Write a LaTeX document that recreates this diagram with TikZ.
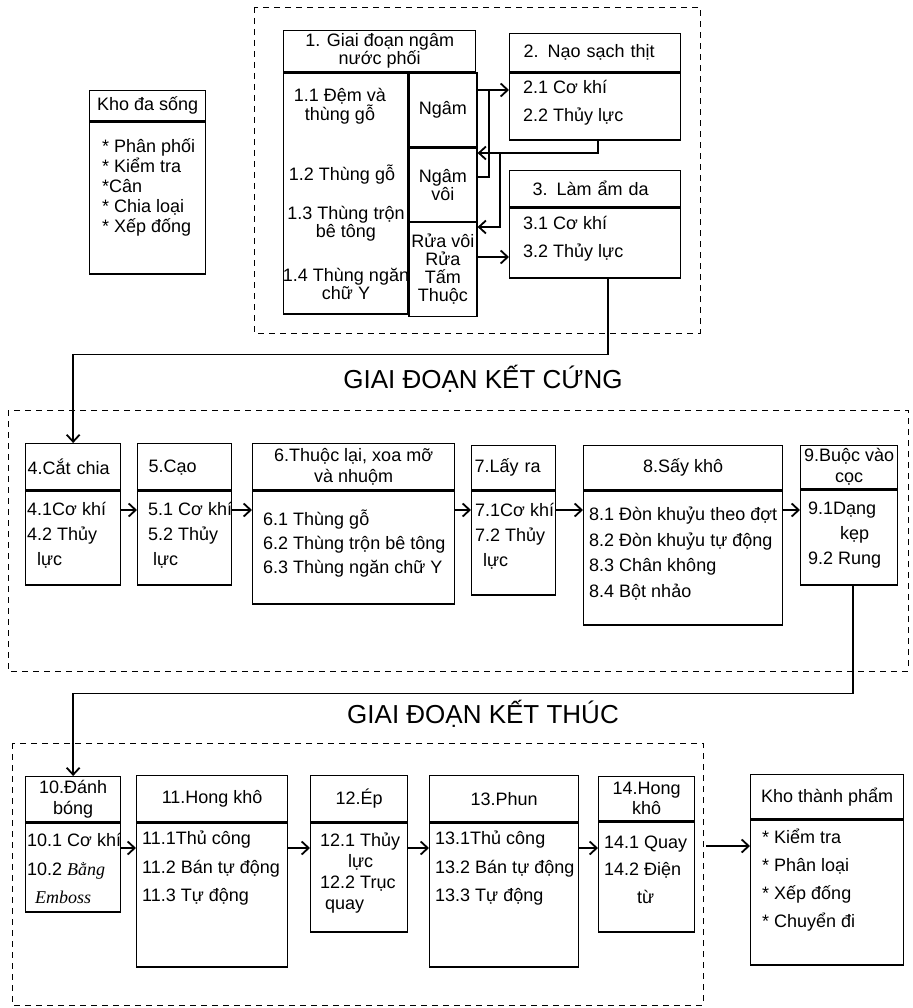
\documentclass[tikz,border=0pt]{standalone}
\usepackage{fontspec}
\setmainfont{Liberation Sans}
\newfontfamily\handfont{Liberation Serif}
\usetikzlibrary{positioning, arrows.meta, calc}

\begin{document}
\begin{tikzpicture}[
    x=1pt, y=-1pt,
    box/.style={rectangle, draw=black, line width=1.3pt, inner sep=0pt, anchor=north west},
    head/.style={box, font=\fontsize{18}{21}\selectfont, align=center},
    cell/.style={box, font=\fontsize{18}{18}\selectfont, align=center, minimum width=68},
    txt/.style={font=\fontsize{18}{#1}\selectfont, align=left, inner sep=0pt, anchor=west},
    txt/.default=26,
    ctxt/.style={font=\fontsize{18}{18}\selectfont, align=center, inner sep=0pt},
    stage/.style={draw=black, line width=0.9pt, dash pattern=on 6pt off 5pt},
    title/.style={font=\fontsize{26}{30}\selectfont, inner sep=0pt, anchor=base},
    arrow/.style={-{Straight Barb[length=7pt,width=13pt,line width=1.8pt]}, line width=1.4pt},
    link/.style={line width=1.4pt},
]
\useasboundingbox (0,0) rectangle (912,1008);

% === STAGE 1: SOAKING ===
\draw[stage] (254,7) rectangle (700,333);

\node[head, minimum width=116, minimum height=30] (hds) at (89,90) {Kho đa sống};
\node[box, minimum width=116, minimum height=152] (bds) at (hds.south west) {};
\node[txt=20] (tds) at (102,187) {* Phân phối\\* Kiểm tra\\*Cân\\* Chia loại\\* Xếp đống};

\node[head, minimum width=192, minimum height=41, font=\fontsize{18}{18}\selectfont] (h1) at (283,30) {1. Giai đoạn ngâm\\nước phối};
\node[box, minimum width=124, minimum height=241] (b1) at (h1.south west) {};
\node[cell, minimum height=74] (ngam) at (b1.north east) {Ngâm};
\node[cell, minimum height=73] (ngamvoi) at (ngam.south west) {Ngâm\\vôi};
\node[cell, minimum height=94] (ruavoi) at (ngamvoi.south west) {Rửa vôi\\Rửa\\Tấm\\Thuộc};
\node[ctxt] (t11) at (340,106) {1.1 Đệm và\\thùng gỗ};
\node[ctxt] (t12) at (342,175) {1.2 Thùng gỗ};
\node[ctxt] (t13) at (346,224) {1.3 Thùng trộn\\bê tông};
\node[ctxt] (t14) at (346,284) {1.4 Thùng ngăn\\chữ Y};

\node[head, minimum width=171, minimum height=38, text width=143, align=left] (h2) at (509,33) {2. Nạo sạch thịt};
\node[box, minimum width=171, minimum height=67] (b2) at (h2.south west) {};
\node[txt=28] (t2) at (523,103) {2.1 Cơ khí\\2.2 Thủy lực};

\node[head, minimum width=171, minimum height=36, text width=125, align=left] (h3) at (509,170) {3. Làm ẩm da};
\node[box, minimum width=171, minimum height=70] (b3) at (h3.south west) {};
\node[txt=28] (t3) at (523,239) {3.1 Cơ khí\\3.2 Thủy lực};

% links inside stage 1
\coordinate (j1) at (489,90);
\coordinate (j2) at (500,153);
\draw[arrow] (ngam.east |- j1) -- (b2.west |- j1);
\draw[link] (ngamvoi.east |- 0,177) -| (j1);
\draw[arrow] (598,0 |- b2.south) |- (ngamvoi.east |- j2);
\draw[arrow] (j2) |- (ruavoi.east |- 0,227);
\draw[arrow] (ruavoi.east |- 0,257) -- (b3.west |- 0,257);

% === GIAI DOAN KET CUNG ===
\node[title] (title1) at (483,388) {GIAI ĐOẠN KẾT CỨNG};
\draw[stage] (8,410) rectangle (908,671);

\node[head, minimum width=95, minimum height=46, text width=91, align=left] (h4) at (25,443) {\rule{0pt}{14pt}4.Cắt chia};
\node[box, minimum width=95, minimum height=94] (b4) at (h4.south west) {};
\node[txt=25] (t4) at (27,535) {4.1Cơ khí\\4.2 Thủy\\\hspace*{10pt}lực};

\node[head, minimum width=94, minimum height=46, text width=72, align=left] (h5) at (137,443) {\rule{0pt}{14pt}5.Cạo};
\node[box, minimum width=94, minimum height=94] (b5) at (h5.south west) {};
\node[txt=25] (t5) at (148,535) {5.1 Cơ khí\\5.2 Thủy\\\hspace*{5pt}lực};

\node[head, minimum width=202, minimum height=46] (h6) at (252,443) {6.Thuộc lại, xoa mỡ\\và nhuộm};
\node[box, minimum width=202, minimum height=113] (b6) at (h6.south west) {};
\node[txt=24] (t6) at (263,544) {6.1 Thùng gỗ\\6.2 Thùng trộn bê tông\\6.3 Thùng ngăn chữ Y};

\node[head, minimum width=84, minimum height=44, text width=78, align=left] (h7) at (471,445) {\rule{0pt}{14pt}7.Lấy ra};
\node[box, minimum width=84, minimum height=104] (b7) at (h7.south west) {};
\node[txt=25] (t7) at (475,536) {7.1Cơ khí\\7.2 Thủy\\\hspace*{8pt}lực};

\node[head, minimum width=199, minimum height=44] (h8) at (583,445) {8.Sấy khô};
\node[box, minimum width=199, minimum height=134] (b8) at (h8.south west) {};
\node[txt=25.7] (t8) at (589,553.5) {8.1 Đòn khuỷu theo đợt\\8.2 Đòn khuỷu tự động\\8.3 Chân không\\8.4 Bột nhảo};

\node[head, minimum width=97, minimum height=43] (h9) at (800,445) {9.Buộc vào\\cọc};
\node[box, minimum width=97, minimum height=95] (b9) at (h9.south west) {};
\node[txt=25] (t9) at (808,535) {9.1Dạng\\\hspace*{32pt}kẹp\\9.2 Rung};

\draw[arrow] (608,0 |- b3.south) -- ++(0,76) -| (h4.north);
\foreach \a/\b in {b4/b5, b5/b6, b6/b7, b7/b8, b8/b9}
  \draw[arrow] (\a.east |- 0,510) -- (\b.west |- 0,510);

% === GIAI DOAN KET THUC ===
\node[title] (title2) at (483,723) {GIAI ĐOẠN KẾT THÚC};
\draw[stage] (12,743) rectangle (703,1005);

\node[head, minimum width=95, minimum height=45] (h10) at (25,776) {10.Đánh\\bóng};
\node[box, minimum width=95, minimum height=89] (b10) at (h10.south west) {};
\node[txt=28.5] (t10) at (27,868.5) {10.1 Cơ khí\\10.2 {\handfont\itshape Bằng}\\\hspace*{8pt}{\handfont\itshape Emboss}};

\node[head, minimum width=151, minimum height=46] (h11) at (136,775) {11.Hong khô};
\node[box, minimum width=151, minimum height=144] (b11) at (h11.south west) {};
\node[txt=28.5] (t11b) at (142,868.5) {11.1Thủ công\\11.2 Bán tự động\\11.3 Tự động};

\node[head, minimum width=97, minimum height=46] (h12) at (310,775) {12.Ép};
\node[box, minimum width=97, minimum height=109] (b12) at (h12.south west) {};
\node[txt=21] (t12b) at (320,873.5) {12.1 Thủy\\\hspace*{28pt}lực\\12.2 Trục\\\hspace*{5pt}quay};

\node[head, minimum width=149, minimum height=46] (h13) at (429,775) {13.Phun};
\node[box, minimum width=149, minimum height=144] (b13) at (h13.south west) {};
\node[txt=28.5] (t13b) at (435,868.5) {13.1Thủ công\\13.2 Bán tự động\\13.3 Tự động};

\node[head, minimum width=96, minimum height=44, font=\fontsize{18}{20}\selectfont] (h14) at (598,776) {14.Hong\\khô};
\node[box, minimum width=96, minimum height=110] (b14) at (h14.south west) {};
\node[txt=27.5] (t14b) at (604,869.5) {14.1 Quay\\14.2 Điện\\\hspace*{33pt}từ};

\node[head, minimum width=153, minimum height=44] (hkt) at (750,774) {Kho thành phẩm};
\node[box, minimum width=153, minimum height=145] (bkt) at (hkt.south west) {};
\node[txt=28] (tkt) at (762,880) {* Kiểm tra\\* Phân loại\\* Xếp đống\\* Chuyển đi};

\draw[arrow] (853,0 |- b9.south) -- ++(0,108) -| (h10.north);
\foreach \a/\b in {b10/b11, b11/b12, b12/b13, b13/b14}
  \draw[arrow] (\a.east |- 0,848) -- (\b.west |- 0,848);
\draw[arrow, shorten <=11pt] (b14.east |- 0,846) -- (bkt.west |- 0,846);

\end{tikzpicture}
\end{document}
